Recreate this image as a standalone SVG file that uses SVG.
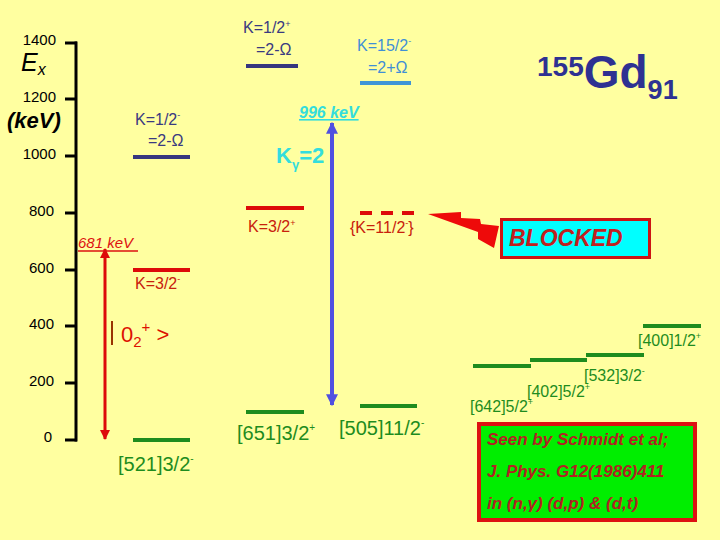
<svg xmlns="http://www.w3.org/2000/svg" width="720" height="540" viewBox="0 0 720 540">
<defs>
<style>
text{font-family:"Liberation Sans",Arial,sans-serif}
.ax{font-size:15px;fill:#000}
.tick{stroke:#000;stroke-width:3}
.lvB{stroke:#36367F;stroke-width:4}
.lvL{stroke:#3F95D6;stroke-width:4}
.lvR{stroke:#DD0A0A;stroke-width:4}
.lvG{stroke:#1E8C1E;stroke-width:4}
.tB{font-size:16px;fill:#3A3A80}
.tL{font-size:16px;fill:#3F8FD6}
.tR{font-size:16px;fill:#C8200C}
.tG{font-size:20px;fill:#1E8C1E}
.tG2{font-size:16px;fill:#1E8C1E}
</style>
<marker id="ahR" viewBox="0 0 10 10" refX="9" refY="5" markerWidth="3.4" markerHeight="3.4" orient="auto-start-reverse" markerUnits="strokeWidth">
<path d="M0,0 L10,5 L0,10 z" fill="#DD0A0A"/>
</marker>
<marker id="ahB" viewBox="0 0 10 10" refX="9" refY="5" markerWidth="3" markerHeight="3" orient="auto-start-reverse" markerUnits="strokeWidth">
<path d="M0,0 L10,5 L0,10 z" fill="#5050E0"/>
</marker>
</defs>
<rect x="0" y="0" width="720" height="540" fill="#FFFFA0"/>

<g id="axis">
<line x1="76" y1="41.5" x2="76" y2="441.5" stroke="#000" stroke-width="3"/>
<line class="tick" x1="65" y1="43" x2="77" y2="43"/>
<line class="tick" x1="65" y1="99" x2="77" y2="99"/>
<line class="tick" x1="65" y1="156" x2="77" y2="156"/>
<line class="tick" x1="65" y1="213" x2="77" y2="213"/>
<line class="tick" x1="65" y1="270" x2="77" y2="270"/>
<line class="tick" x1="65" y1="326" x2="77" y2="326"/>
<line class="tick" x1="65" y1="383" x2="77" y2="383"/>
<line class="tick" x1="65" y1="440" x2="77" y2="440"/>
<text class="ax" x="56" y="45" text-anchor="end">1400</text>
<text class="ax" x="56" y="102" text-anchor="end">1200</text>
<text class="ax" x="56" y="159" text-anchor="end">1000</text>
<text class="ax" x="54" y="216" text-anchor="end">800</text>
<text class="ax" x="54" y="273" text-anchor="end">600</text>
<text class="ax" x="54" y="329" text-anchor="end">400</text>
<text class="ax" x="54" y="386" text-anchor="end">200</text>
<text class="ax" x="52" y="442" text-anchor="end">0</text>
<text x="21" y="71" font-size="25" font-style="italic" fill="#000">E<tspan font-size="16" dy="4">x</tspan></text>
<text x="7" y="128" font-size="22" font-style="italic" font-weight="bold" fill="#000">(keV)</text>
</g>

<g id="title">
<text x="537" y="76" font-size="28" font-weight="bold" fill="#2E3192">155<tspan font-size="46" dy="12">Gd</tspan><tspan font-size="27" dy="11">91</tspan></text>
</g>

<g id="lvl-k12m">
<line class="lvB" x1="133" y1="157" x2="190" y2="157"/>
<text class="tB" x="135" y="125">K=1/2<tspan font-size="9" dy="-7">-</tspan></text>
<text class="tB" x="148" y="146">=2-Ω</text>
</g>

<g id="lvl-k12p">
<line class="lvB" x1="246" y1="66" x2="298" y2="66"/>
<text class="tB" x="243" y="33" fill="#2A2A55">K=1/2<tspan font-size="9" dy="-6">+</tspan></text>
<text class="tB" x="256" y="55" fill="#2A2A55">=2-Ω</text>
</g>

<g id="lvl-k152m">
<line class="lvL" x1="360" y1="83" x2="411" y2="83"/>
<text class="tL" x="357" y="51">K=15/2<tspan font-size="9" dy="-7">-</tspan></text>
<text class="tL" x="368" y="73">=2+Ω</text>
</g>

<g id="lvl-k32m">
<line class="lvR" x1="133" y1="270" x2="190" y2="270"/>
<text class="tR" x="135" y="289">K=3/2<tspan font-size="9" dy="-7">-</tspan></text>
</g>

<g id="lvl-k32p">
<line class="lvR" x1="246" y1="208" x2="304" y2="208"/>
<text class="tR" x="248" y="232">K=3/2<tspan font-size="9" dy="-6">+</tspan></text>
</g>

<g id="lvl-k112m">
<line x1="360" y1="213" x2="414" y2="213" stroke="#DD0A0A" stroke-width="4" stroke-dasharray="12 9"/>
<text class="tR" x="350" y="233">{K=11/2<tspan font-size="9" dy="-7">-</tspan><tspan dy="7">}</tspan></text>
</g>

<g id="state-02">
<line x1="112" y1="321" x2="112" y2="345" stroke="#993300" stroke-width="2"/>
<text x="121" y="342" font-size="22" fill="#DD1100">0<tspan font-size="15" dy="5">2</tspan><tspan font-size="15" dy="-15">+</tspan><tspan dy="10"> &gt;</tspan></text>
</g>

<g id="lvl-521">
<line class="lvG" x1="133" y1="440" x2="190" y2="440"/>
<text class="tG" x="118" y="471">[521]3/2<tspan font-size="10" dy="-9">-</tspan></text>
</g>
<g id="lvl-651">
<line class="lvG" x1="246" y1="412" x2="304" y2="412"/>
<text class="tG" x="237" y="440">[651]3/2<tspan font-size="10" dy="-9">+</tspan></text>
</g>
<g id="lvl-505">
<line class="lvG" x1="360" y1="406" x2="417" y2="406"/>
<text class="tG" x="339" y="435">[505]11/2<tspan font-size="10" dy="-9">-</tspan></text>
</g>
<g id="lvl-642">
<line class="lvG" x1="473" y1="366" x2="531" y2="366"/>
<text class="tG2" x="470" y="412">[642]5/2<tspan font-size="9" dy="-7">+</tspan></text>
</g>
<g id="lvl-402">
<line class="lvG" x1="530" y1="360" x2="587" y2="360"/>
<text class="tG2" x="527" y="397">[402]5/2<tspan font-size="9" dy="-7">+</tspan></text>
</g>
<g id="lvl-532">
<line class="lvG" x1="586" y1="355" x2="644" y2="355"/>
<text class="tG2" x="584" y="381">[532]3/2<tspan font-size="9" dy="-7">-</tspan></text>
</g>
<g id="lvl-400">
<line class="lvG" x1="643" y1="326" x2="701" y2="326"/>
<text class="tG2" x="638" y="346">[400]1/2<tspan font-size="9" dy="-7">+</tspan></text>
</g>

<g id="blocked">
<rect x="501.5" y="219.5" width="148" height="38" fill="#00FFFF" stroke="#CC1414" stroke-width="3"/>
<text x="509" y="246" font-size="23" font-weight="bold" font-style="italic" fill="#C02020">BLOCKED</text>
</g>

<g id="note">
<rect x="479" y="424" width="216" height="96" fill="#00EE00" stroke="#DD1111" stroke-width="4"/>
<g font-size="17" font-weight="bold" font-style="italic" fill="#B02222">
<text x="487" y="445">Seen by Schmidt et al;</text>
<text x="487" y="477">J. Phys. G12(1986)411</text>
<text x="487" y="509">in (n,γ) (d,p) &amp; (d,t)</text>
</g>
</g>

<g id="connectors">
<line x1="105" y1="249" x2="105" y2="439" stroke="#DD0A0A" stroke-width="3" marker-start="url(#ahR)" marker-end="url(#ahR)"/>
<line x1="332" y1="123" x2="332" y2="405" stroke="#5050E0" stroke-width="4" marker-start="url(#ahB)" marker-end="url(#ahB)"/>
<polygon points="428,214 461,212 461,218 480,219 481,224 499,226 494,248 478,239 478,232" fill="#EE0A0A"/>
</g>

<g id="labels">
<text x="299" y="118" font-size="16" font-weight="bold" font-style="italic" fill="#33DDDD" text-decoration="underline">996 keV</text>
<text x="276" y="163" font-size="22" font-weight="bold" fill="#33DDDD">K<tspan font-size="13" dy="6">γ</tspan><tspan dy="-6">=2</tspan></text>
<text x="78" y="248" font-size="15" font-style="italic" fill="#DD1111">681 keV</text>
<line x1="78" y1="251" x2="138" y2="251" stroke="#DD1111" stroke-width="1.5"/>
</g>
</svg>
